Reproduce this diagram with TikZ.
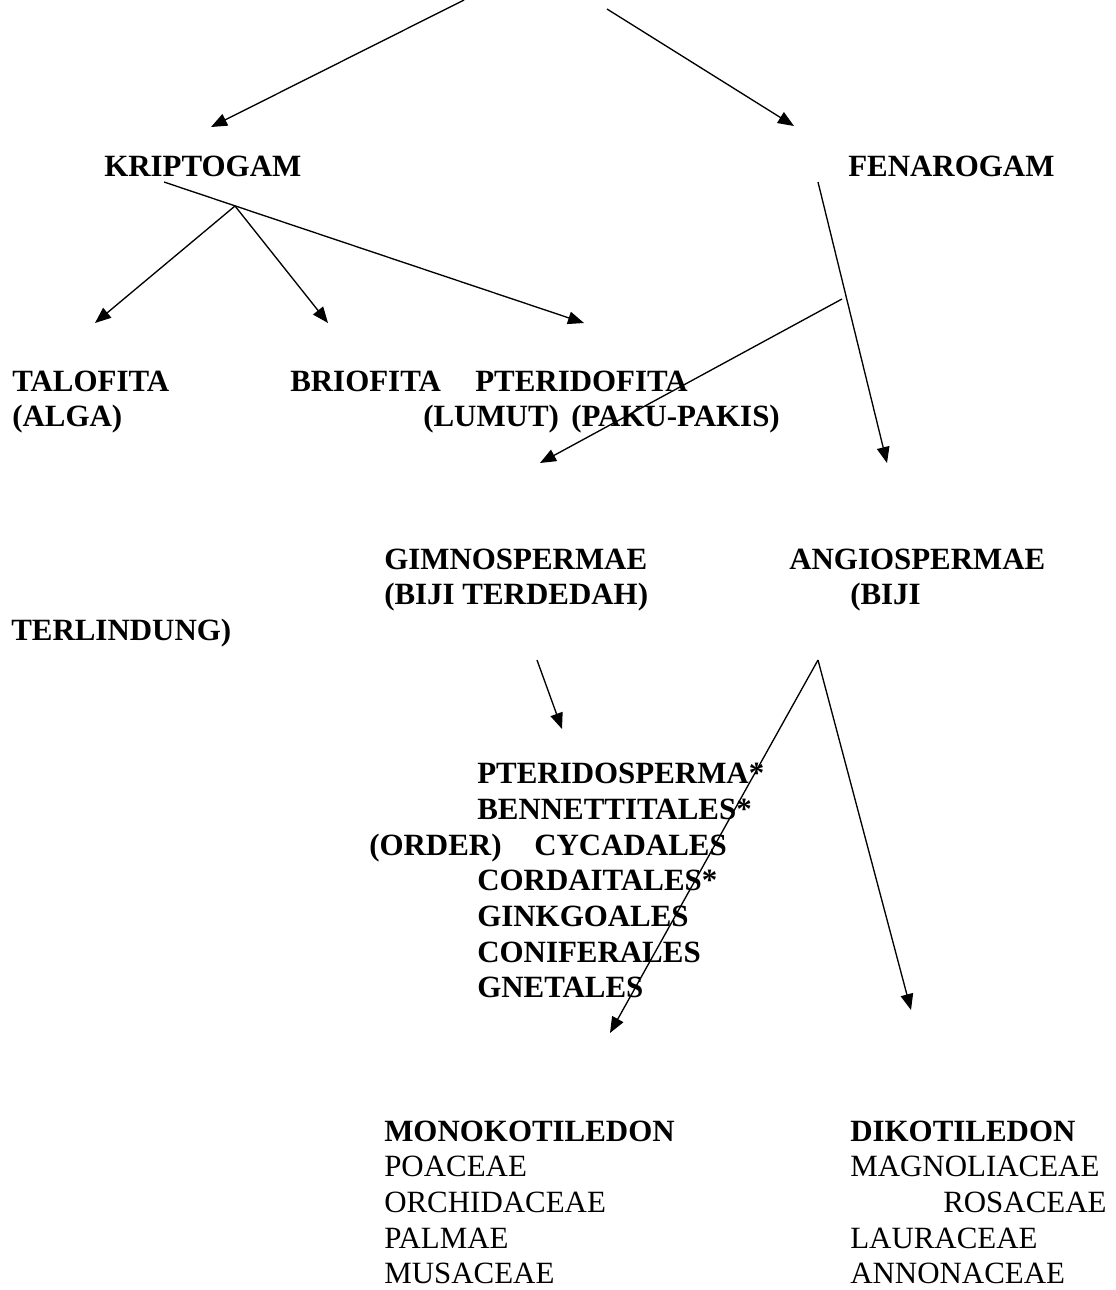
\documentclass[tikz,border=0pt]{standalone}
\usepackage{fontspec}
\setmainfont{Liberation Serif}
\usetikzlibrary{arrows.meta}

\begin{document}
\begin{tikzpicture}[x=0.75pt,y=-0.75pt,
  lbl/.style={anchor=base west,inner sep=0pt,font=\fontsize{23.2}{28}\selectfont\bfseries},
  fam/.style={anchor=base west,inner sep=0pt,font=\fontsize{23.2}{28}\selectfont},
  arr/.style={-{Triangle[length=12pt,width=9.5pt]},line width=1pt}]
\useasboundingbox (0,0) rectangle (1116,1290);
\coordinate (rootL) at (464,0);
\coordinate (rootR) at (607,9);
\coordinate (kripL) at (211,127);
\coordinate (fenaR) at (794,126);
\draw[arr] (rootL)--(kripL);
\draw[arr] (rootR)--(fenaR);
\node (krip) at (104,176) [lbl] {KRIPTOGAM};
\node (fena) at (848,176) [lbl] {FENAROGAM};
\coordinate (kripS) at (164,182);
\coordinate (kripV) at (235,206);
\coordinate (taloT) at (95,323);
\coordinate (brioT) at (328,323);
\coordinate (pterT) at (584,323);
\draw[arr] (kripS)--(pterT);
\draw[arr] (kripV)--(taloT);
\draw[arr] (kripV)--(brioT);
\node (talo) at (12,391) [lbl] {TALOFITA};
\node (alga) at (12,426) [lbl] {(ALGA)};
\node (brio) at (290,391) [lbl] {BRIOFITA};
\node (pter) at (475,391) [lbl] {PTERIDOFITA};
\node (lumut) at (423,426) [lbl] {(LUMUT)};
\node (paku) at (571,426) [lbl] {(PAKU-PAKIS)};
\coordinate (fenaS) at (818,182);
\coordinate (angiT) at (887,463);
\coordinate (gimnS) at (842,299);
\coordinate (gimnT) at (540,463);
\draw[arr] (fenaS)--(angiT);
\draw[arr] (gimnS)--(gimnT);
\node (gimn) at (384,569) [lbl] {GIMNOSPERMAE};
\node (terdedah) at (384,604) [lbl] {(BIJI TERDEDAH)};
\node (angi) at (789,569) [lbl] {ANGIOSPERMAE};
\node (biji) at (850,604) [lbl] {(BIJI};
\node (terlindung) at (11,640) [lbl] {TERLINDUNG)};
\coordinate (gimnB) at (537,660);
\coordinate (ordT) at (562,729);
\draw[arr] (gimnB)--(ordT);
\node (ptsp) at (477,783) [lbl] {PTERIDOSPERMA*};
\node (benn) at (477,819) [lbl] {BENNETTITALES*};
\node (order) at (369,855) [lbl] {(ORDER)};
\node (cyca) at (534,855) [lbl] {CYCADALES};
\node (cord) at (477,890) [lbl] {CORDAITALES*};
\node (gink) at (477,926) [lbl] {GINKGOALES};
\node (coni) at (477,962) [lbl] {CONIFERALES};
\node (gnet) at (477,997) [lbl] {GNETALES};
\coordinate (angiV) at (818,660);
\coordinate (monoT) at (610,1033);
\coordinate (dikoT) at (911,1010);
\draw[arr] (angiV)--(monoT);
\draw[arr] (angiV)--(dikoT);
\node (mono) at (384,1141) [lbl] {MONOKOTILEDON};
\node (diko) at (850,1141) [lbl] {DIKOTILEDON};
\node (poac) at (384,1176) [fam] {POACEAE};
\node (orch) at (384,1212) [fam] {ORCHIDACEAE};
\node (palm) at (384,1248) [fam] {PALMAE};
\node (musa) at (384,1283) [fam] {MUSACEAE};
\node (magn) at (850,1176) [fam] {MAGNOLIACEAE};
\node (rosa) at (943,1212) [fam] {ROSACEAE};
\node (laur) at (850,1248) [fam] {LAURACEAE};
\node (anno) at (850,1283) [fam] {ANNONACEAE};
\end{tikzpicture}
\end{document}
